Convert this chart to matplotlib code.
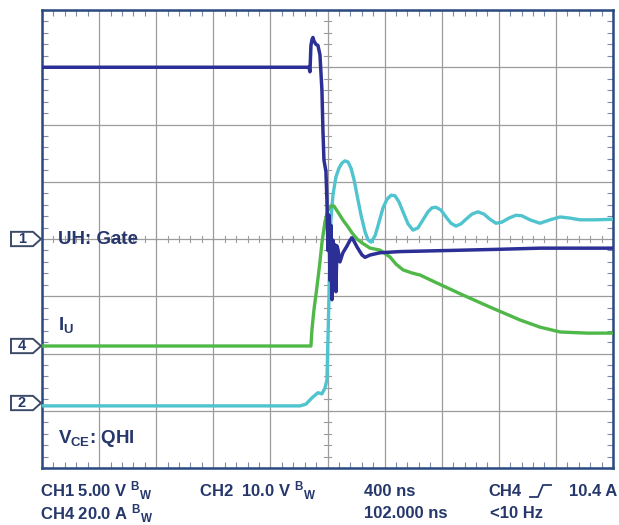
import numpy as np
import matplotlib
matplotlib.use("Agg")
import matplotlib.pyplot as plt
from matplotlib.patches import Polygon
from matplotlib.transforms import blended_transform_factory
from matplotlib.lines import Line2D

W, H = 619, 525
plt.rcParams['font.family'] = ['Liberation Sans', 'DejaVu Sans']
plt.rcParams['font.weight'] = 'bold'
plt.rcParams['mathtext.fontset'] = 'custom'
plt.rcParams['mathtext.rm'] = 'Liberation Sans:bold'
plt.rcParams['mathtext.it'] = 'Liberation Sans:bold'
plt.rcParams['mathtext.bf'] = 'Liberation Sans:bold'

# ---------------- data (time in ns from left screen edge) ----------------
gate_t = [0, 1870, 1877, 1884, 1891, 1898, 1905, 1919, 1933, 1947, 1961,
          1968, 1975, 1989, 1996, 2003, 2010, 2017, 2024, 2031, 2038, 2045, 2052,
          2059, 2066, 2073, 2087, 2108, 2137, 2158, 2172, 2186, 2207, 2242, 2263, 2298,
          2368, 2508, 2858, 3200, 3488, 4000]
gate_v = [15.0, 15.0, 14.6, 16.9, 17.4, 17.6, 17.3, 17.0, 16.9, 16.1, 13.0,
          9.5, 6.9, 5.9, 3.4, -1.0, 2.1, -3.6, 1.2, -5.3, -0.1, -3.1, -0.5,
          -4.6, -0.6, -0.9, -2.0, -1.2, -0.6, -0.1, 0.1, -0.2, -0.7, -1.4, -1.6, -1.4,
          -1.2, -1.1, -1.0, -0.9, -0.8, -0.8]

vce_t = [0, 1807, 1849, 1891, 1933, 1961, 1982, 1996, 2003, 2010, 2017, 2024, 2038,
         2059, 2080, 2101, 2122, 2144, 2165, 2186, 2207, 2235, 2263, 2284, 2305,
         2333, 2361, 2389, 2417, 2445, 2473, 2501, 2529, 2564, 2599, 2634, 2669,
         2704, 2732, 2760, 2795, 2830, 2865, 2900, 2935, 2970, 3012, 3054, 3096,
         3138, 3180, 3222, 3271, 3320, 3362, 3418, 3488, 3559, 3629, 3699, 3769,
         3874, 4000]
vce_v = [-0.5, -0.5, -0.2, 0.9, 1.8, 1.6, 2.6, 4.0, 11.0, 18.0, 26.7, 32.0, 36.3,
         39.5, 41.0, 41.9, 42.3, 42.1, 41.0, 39.0, 36.3, 32.8, 29.9, 28.5, 28.1,
         29.2, 31.6, 34.1, 35.6, 36.3, 36.2, 35.1, 33.4, 31.3, 30.2, 30.6, 32.0,
         33.4, 34.1, 34.2, 33.7, 32.5, 31.4, 30.9, 31.3, 32.1, 33.0, 33.4, 33.0,
         32.1, 31.4, 31.6, 32.3, 32.8, 32.7, 32.0, 31.4, 32.0, 32.5, 32.3, 32.0,
         32.0, 32.1]

iu_t = [0, 1884, 1891, 1905, 1926, 1947, 1961, 1982, 2003, 2024, 2045, 2073, 2108,
        2144, 2172, 2207, 2242, 2298, 2368, 2438, 2480, 2529, 2592, 2648, 2767,
        2949, 3138, 3348, 3488, 3629, 3818, 4000]
iu_a = [0.0, 0.0, 5.6, 12.6, 20.6, 29.3, 36.0, 43.3, 47.5, 48.9, 48.9, 46.8, 44.0,
        41.6, 39.5, 37.4, 36.0, 34.2, 33.5, 31.1, 28.6, 26.6, 25.5, 24.8, 22.0,
        17.8, 13.6, 9.1, 6.6, 4.9, 4.5, 4.5]

time_per_div = 400.0
ch1_scale, ch2_scale, ch4_scale = 5.0, 10.0, 20.0
ch1_ground, ch2_ground, ch4_ground = 0.0, -2.865, -1.869

label_gate = "UH: Gate"
label_iu = "$I_U$"
label_vce = "$V_{CE}$: QHI"
bw = "${}^{B}{}_{W}$"
row1 = ["CH1 5.00 V " + bw, "CH2  10.0 V " + bw, "400 ns", "CH4", "10.4 A"]
row2 = ["CH4 20.0 A " + bw, "102.000 ns", "<10 Hz"]

# ---------------- style ----------------
c_gate = "#2b2f96"
c_vce = "#4fc4cf"
c_iu = "#4fb848"
c_text = "#25376b"
c_frame = "#2a4a80"
c_grid = "#9c9c9c"

fig = plt.figure(figsize=(W / 100, H / 100), dpi=100)
fig.patch.set_facecolor("white")

def fx(px):
    return px / W

def fy(py):
    return 1 - py / H

L, R, T, B = 42, 613, 10, 468
ax = fig.add_axes([fx(L), fy(B), (R - L) / W, (B - T) / H])
ax.set_xlim(0, 10)
ax.set_ylim(-4, 4)

ax.set_xticks(np.arange(0, 11, 1))
ax.set_yticks(np.arange(-4, 5, 1))
ax.set_xticks(np.arange(0, 10.01, 0.2), minor=True)
ax.set_yticks(np.arange(-4, 4.01, 0.2), minor=True)
ax.grid(True, which="major", color=c_grid, lw=0.9)
ax.tick_params(which="both", direction="in", top=True, right=True,
               labelbottom=False, labelleft=False, color=c_frame)
ax.tick_params(which="major", length=0)
ax.tick_params(which="minor", length=4, width=0.8, color="#7a8aa8")
for s in ax.spines.values():
    s.set_color(c_frame)
    s.set_linewidth(1.8)

# center cross tick marks
for xv in np.arange(0, 10.01, 0.2):
    ax.plot([xv, xv], [-0.055, 0.055], color=c_grid, lw=0.8, zorder=1)
for yv in np.arange(-4, 4.01, 0.2):
    ax.plot([4.94, 5.06], [yv, yv], color=c_grid, lw=0.8, zorder=1)

# traces
kw = dict(solid_joinstyle="round", solid_capstyle="round")
ax.plot(np.array(vce_t) / time_per_div, ch2_ground + np.array(vce_v) / ch2_scale,
        color=c_vce, lw=2.4, zorder=3, **kw)
ax.plot(np.array(iu_t) / time_per_div, ch4_ground + np.array(iu_a) / ch4_scale,
        color=c_iu, lw=2.4, zorder=4, **kw)
ax.plot(np.array(gate_t) / time_per_div, ch1_ground + np.array(gate_v) / ch1_scale,
        color=c_gate, lw=2.5, zorder=5, **kw)

# labels inside the screen
tx = (58 - L) / 57.1
lfs = 13.5
ax.text(tx, 0.0, label_gate, color=c_text, fontsize=lfs, fontweight="bold",
        va="center", ha="left", zorder=6)
ax.text(tx, -1.50, label_iu, color=c_text, fontsize=lfs, va="center", ha="left", zorder=6)
ax.text(tx, -3.48, label_vce, color=c_text, fontsize=lfs, va="center", ha="left", zorder=6)

# channel ground markers
btr = blended_transform_factory(fig.transFigure, ax.transData)
for num, g in [("1", ch1_ground), ("4", ch4_ground), ("2", ch2_ground)]:
    h = 0.125
    pts = [(fx(11), g - h), (fx(33), g - h), (fx(41), g), (fx(33), g + h), (fx(11), g + h)]
    poly = Polygon(pts, closed=True, transform=btr, facecolor="white",
                   edgecolor="#3b4a68", lw=1.4, clip_on=False, zorder=7)
    fig.add_artist(poly)
    t = fig.text(fx(22), g, num, transform=btr, color=c_text, fontsize=10.5,
                 fontweight="bold", ha="center", va="center")
    t.set_zorder(8)

# bottom status text
fs = 12
y1, y2 = 491, 514
fig.text(fx(40), fy(y1), row1[0], color=c_text, fontsize=fs, va="center", ha="left")
fig.text(fx(199), fy(y1), row1[1], color=c_text, fontsize=fs, va="center", ha="left")
fig.text(fx(364), fy(y1), row1[2], color=c_text, fontsize=fs, va="center", ha="left")
fig.text(fx(488), fy(y1), row1[3], color=c_text, fontsize=fs, va="center", ha="left")
fig.text(fx(617), fy(y1), row1[4], color=c_text, fontsize=fs, va="center", ha="right")
fig.add_artist(Line2D([fx(530), fx(538), fx(543), fx(551)],
                      [fy(497), fy(497), fy(485), fy(485)],
                      transform=fig.transFigure, color=c_text, lw=1.3))
fig.text(fx(40), fy(y2), row2[0], color=c_text, fontsize=fs, va="center", ha="left")
fig.text(fx(364), fy(y2), row2[1], color=c_text, fontsize=fs, va="center", ha="left")
fig.text(fx(490), fy(y2), row2[2], color=c_text, fontsize=fs, va="center", ha="left")

fig.savefig("out.png", dpi=100)
